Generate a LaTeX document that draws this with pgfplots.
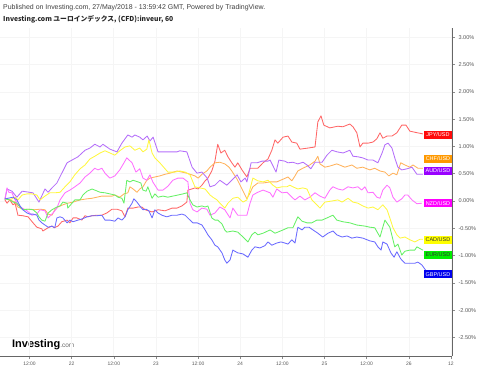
\documentclass[border=0pt]{standalone}
\usepackage{fontspec}
\setmainfont{Liberation Sans}
\newfontfamily\cjk{Noto Sans CJK JP}
\usepackage{pgfplots}
\pgfplotsset{compat=1.18}
\definecolor{lJPY}{HTML}{FF6666}\definecolor{fJPY}{HTML}{FF0A0A}
\definecolor{lCHF}{HTML}{FFB25C}\definecolor{fCHF}{HTML}{FF9900}
\definecolor{lAUD}{HTML}{B46EFA}\definecolor{fAUD}{HTML}{9900FF}
\definecolor{lNZD}{HTML}{FF70FF}\definecolor{fNZD}{HTML}{FF00FF}
\definecolor{lCAD}{HTML}{FFF740}\definecolor{fCAD}{HTML}{FFFF00}
\definecolor{lEUR}{HTML}{66F066}\definecolor{fEUR}{HTML}{00EE00}
\definecolor{lGBP}{HTML}{6A6AFF}\definecolor{fGBP}{HTML}{0000EE}
\begin{document}
\begin{tikzpicture}
\path[use as bounding box] (0,0) rectangle (480bp,369bp);
\node[anchor=west, inner sep=0pt, font=\fontsize{7}{8}\selectfont, text=black!75] at (3bp,361bp) {Published on Investing.com, 27/May/2018 - 13:59:42 GMT, Powered by TradingView.};
\node[anchor=west, inner sep=0pt, font=\cjk\bfseries\fontsize{6.8}{8}\selectfont, text=black!85] at (3bp,350bp) {Investing.com ユーロインデックス, (CFD):inveur, 60};
\node[anchor=west, inner sep=0pt] at (12bp,24bp) {\fontsize{11}{12}\selectfont\bfseries Investing\fontsize{6.5}{7}\selectfont\mdseries\textcolor{black!60}{.com}};
\begin{axis}[at={(0bp,13bp)}, anchor=south west, scale only axis,
  width=452bp, height=328bp,
  xmin=3.6, xmax=132.3, ymin=-2.84, ymax=3.17,
  axis x line*=bottom, axis y line*=right,
  axis line style={-, draw=black!60, line width=0.8bp},
  grid=major, major grid style={draw=black!4, line width=0.6bp},
  tick align=outside, major tick length=3bp,
  tick style={draw=black!45, line width=0.5bp},
  xtick={12,24,36,48,60,72,84,96,108,120,132},
  xticklabels={12:00,22,12:00,23,12:00,24,12:00,25,12:00,26,12},
  ytick={-2.5,-2,-1.5,-1,-0.5,0,0.5,1,1.5,2,2.5,3},
  /pgf/number format/assume math mode=true,
  yticklabel={\pgfmathprintnumber[fixed,fixed zerofill,precision=2]{\tick}\%},
  xticklabel style={font=\fontsize{5}{6}\selectfont, text=black!65},
  yticklabel style={font=\fontsize{5.6}{6}\selectfont, text=black!65},
  clip mode=individual,
  every axis plot/.append style={line width=0.85bp, line join=round}]
\addplot[lJPY] coordinates {(5.0,0.02)(5.6,-0.04)(6.4,0.02)(7.3,-0.07)(7.9,-0.04)(8.7,-0.26)(10.1,-0.27)(11.6,-0.29)(13.0,-0.40)(14.1,-0.48)(15.5,-0.51)(15.8,-0.55)(17.3,-0.49)(18.4,-0.46)(19.0,-0.49)(20.1,-0.46)(21.2,-0.38)(22.7,-0.35)(23.5,-0.40)(24.4,-0.31)(25.5,-0.31)(26.9,-0.35)(27.8,-0.27)(28.6,-0.29)(29.8,-0.27)(31.2,-0.26)(32.6,-0.26)(34.0,-0.22)(35.5,-0.15)(36.9,-0.15)(38.3,-0.18)(39.2,-0.29)(40.0,-0.13)(41.5,-0.13)(42.9,-0.11)(44.0,-0.11)(44.9,-0.16)(46.9,-0.20)(48.6,-0.16)(50.6,-0.18)(52.6,-0.13)(54.0,-0.13)(55.4,-0.09)(56.8,-0.02)(57.1,0.20)(58.2,0.22)(59.1,0.24)(60.0,0.22)(61.1,0.29)(62.0,0.37)(62.8,0.42)(63.9,0.55)(64.8,0.73)(65.6,1.04)(66.5,0.88)(67.6,0.93)(68.5,0.81)(69.6,0.70)(70.5,0.62)(71.3,0.70)(72.5,0.57)(73.9,0.44)(74.8,0.60)(77.0,0.60)(78.5,0.70)(79.9,0.77)(81.0,0.93)(81.9,1.12)(82.7,1.06)(84.2,1.17)(85.6,1.19)(86.7,1.08)(88.1,1.06)(89.0,0.95)(91.3,0.97)(93.3,0.99)(94.1,1.45)(95.0,1.56)(95.8,1.39)(97.5,1.34)(99.8,1.37)(101.2,1.36)(103.2,1.41)(104.1,1.36)(105.2,1.25)(106.1,0.99)(106.9,1.06)(108.4,1.06)(109.8,1.08)(110.9,1.14)(111.8,1.25)(112.6,1.15)(113.8,1.19)(115.2,1.19)(116.6,1.25)(118.0,1.39)(119.2,1.39)(120.3,1.28)(121.7,1.26)(124.0,1.23)};
\addplot[lCHF] coordinates {(5.0,0.04)(6.4,0.02)(7.9,-0.02)(8.7,-0.11)(10.1,-0.15)(12.1,-0.15)(13.5,-0.16)(15.0,-0.15)(16.4,-0.16)(17.3,-0.24)(18.4,-0.26)(19.2,-0.16)(20.1,-0.11)(21.5,-0.07)(22.9,-0.04)(24.4,-0.02)(26.4,0.02)(28.4,0.04)(29.8,0.05)(31.2,0.07)(32.6,0.09)(34.0,0.09)(35.5,0.09)(36.3,0.11)(37.7,0.07)(38.9,0.13)(40.0,0.15)(40.6,0.26)(41.5,0.22)(42.6,0.16)(43.4,0.22)(44.3,0.26)(45.4,0.38)(46.3,0.42)(47.7,0.44)(49.1,0.46)(50.6,0.49)(52.0,0.51)(54.0,0.55)(55.4,0.53)(56.8,0.51)(58.2,0.48)(59.1,0.46)(60.0,0.42)(61.1,0.49)(62.5,0.55)(63.4,0.62)(64.8,0.70)(66.2,0.71)(67.6,0.68)(68.8,0.62)(69.6,0.55)(71.1,0.40)(72.5,0.22)(73.9,0.04)(74.8,0.15)(75.6,0.26)(77.0,0.33)(78.5,0.33)(80.5,0.35)(82.4,0.35)(84.2,0.40)(85.6,0.44)(86.7,0.37)(87.6,0.46)(88.4,0.55)(89.8,0.60)(91.8,0.66)(93.3,0.73)(94.1,0.82)(94.7,0.68)(96.1,0.62)(97.5,0.64)(99.5,0.68)(101.8,0.62)(103.8,0.66)(105.2,0.60)(106.9,0.62)(108.9,0.57)(110.3,0.60)(111.8,0.55)(113.2,0.53)(114.3,0.46)(115.5,0.51)(116.6,0.48)(117.7,0.70)(118.9,0.66)(120.3,0.62)(121.2,0.66)(122.6,0.60)(124.0,0.60)};
\addplot[lAUD] coordinates {(5.0,0.02)(5.6,0.22)(7.0,0.18)(8.4,0.07)(9.9,0.18)(13.0,0.15)(14.7,-0.02)(16.4,0.22)(17.3,0.16)(18.4,0.24)(19.8,0.33)(21.2,0.51)(22.7,0.70)(24.1,0.75)(25.8,0.81)(27.8,0.93)(29.2,0.97)(30.6,1.04)(32.1,0.99)(32.9,1.04)(34.9,0.95)(36.9,0.90)(38.3,1.06)(40.0,1.21)(41.2,1.17)(42.0,1.21)(43.4,1.17)(44.3,1.12)(45.5,1.19)(46.3,1.10)(47.2,1.17)(48.6,0.90)(52.0,0.90)(54.0,0.90)(54.8,0.92)(56.8,0.90)(58.3,0.62)(59.7,0.51)(61.1,0.53)(62.6,0.42)(63.4,0.26)(64.8,0.29)(66.2,0.38)(68.2,0.29)(69.6,0.38)(71.1,0.48)(72.2,0.35)(73.4,0.42)(73.9,0.35)(75.1,0.70)(76.8,0.70)(78.2,0.73)(79.9,0.73)(80.5,0.75)(82.2,0.53)(83.0,0.75)(84.7,0.73)(85.6,0.70)(87.0,0.71)(88.4,0.68)(89.9,0.71)(91.0,0.66)(92.1,0.59)(93.3,0.71)(95.3,0.71)(96.7,0.84)(98.1,0.93)(99.6,0.90)(101.3,0.88)(103.2,0.93)(104.1,0.82)(105.5,0.81)(106.9,0.79)(108.4,0.75)(109.8,0.75)(111.2,0.70)(112.4,0.88)(113.2,1.03)(114.1,1.06)(115.2,0.97)(116.1,0.77)(116.9,0.62)(118.0,0.57)(119.5,0.59)(120.9,0.62)(122.3,0.49)(124.0,0.49)};
\addplot[lNZD] coordinates {(5.0,0.04)(5.6,0.24)(6.1,0.16)(7.0,0.15)(7.9,0.02)(8.7,-0.07)(9.9,-0.13)(11.3,-0.18)(12.7,-0.26)(14.1,-0.24)(15.0,-0.16)(16.4,-0.18)(17.3,-0.31)(18.1,-0.26)(18.7,-0.22)(19.8,-0.13)(20.7,0.02)(22.1,0.15)(23.5,0.20)(24.9,0.26)(26.4,0.33)(27.8,0.44)(29.2,0.51)(30.6,0.60)(31.5,0.57)(32.6,0.60)(33.5,0.51)(34.9,0.42)(36.3,0.46)(37.7,0.57)(38.9,0.70)(39.7,0.79)(41.2,0.70)(42.3,0.53)(43.4,0.59)(44.3,0.42)(45.4,0.38)(46.3,0.48)(47.1,0.35)(48.6,0.20)(50.0,0.20)(51.4,0.27)(52.8,0.38)(54.3,0.42)(55.7,0.42)(57.1,0.35)(57.7,-0.04)(58.5,-0.16)(59.7,-0.20)(61.1,-0.13)(62.5,-0.15)(63.4,-0.26)(64.8,-0.22)(66.2,-0.11)(67.6,-0.16)(69.1,-0.31)(69.9,-0.13)(71.3,-0.26)(73.9,-0.26)(74.8,-0.04)(75.6,0.11)(77.0,0.16)(78.5,0.20)(80.5,0.15)(81.3,0.07)(82.4,0.22)(83.9,0.15)(85.3,0.16)(86.7,0.07)(87.6,0.02)(89.0,0.09)(90.4,0.02)(91.8,0.07)(93.3,0.15)(94.7,0.09)(96.1,0.05)(97.5,0.20)(98.4,0.26)(99.8,0.22)(101.2,0.20)(102.7,0.26)(104.1,0.24)(105.5,0.26)(106.6,0.20)(107.5,0.26)(108.4,0.15)(109.8,0.16)(110.9,0.07)(111.8,0.05)(112.6,0.20)(113.8,0.29)(114.6,0.24)(115.5,0.07)(116.6,-0.02)(118.0,0.04)(118.9,0.11)(119.7,0.11)(120.9,0.02)(122.3,-0.05)(123.7,-0.04)};
\addplot[lCAD] coordinates {(5.0,0.04)(6.4,0.02)(7.9,0.07)(8.7,0.02)(9.9,0.11)(11.3,0.13)(12.7,0.13)(14.1,0.11)(15.0,0.02)(16.4,0.09)(17.8,0.15)(19.2,0.15)(20.7,0.16)(22.1,0.26)(23.5,0.35)(24.9,0.48)(26.4,0.59)(27.8,0.66)(29.2,0.77)(30.6,0.82)(32.1,0.88)(33.5,0.92)(34.9,0.88)(36.3,0.84)(37.7,0.92)(39.2,0.99)(40.6,1.01)(42.0,0.93)(43.4,0.97)(44.3,0.90)(45.4,0.95)(46.0,1.12)(46.9,0.88)(47.7,0.79)(49.1,0.70)(50.6,0.59)(51.4,0.53)(53.4,0.53)(54.8,0.55)(56.3,0.53)(57.7,0.48)(59.1,0.26)(60.5,0.24)(62.0,0.22)(63.4,0.11)(64.2,0.07)(65.4,0.02)(66.2,-0.04)(67.6,-0.13)(68.5,-0.04)(69.9,0.05)(71.3,0.07)(72.8,-0.02)(73.9,0.02)(74.8,0.22)(75.6,0.42)(77.0,0.37)(78.5,0.35)(79.9,0.38)(81.3,0.29)(82.4,0.24)(83.9,0.26)(85.3,0.26)(86.1,0.29)(87.0,0.26)(88.4,0.22)(89.8,0.24)(91.0,0.22)(92.4,0.02)(93.8,-0.07)(94.7,-0.13)(96.1,-0.02)(98.1,0.00)(99.8,0.02)(101.0,-0.02)(102.7,0.05)(104.1,-0.02)(105.5,-0.04)(106.9,-0.09)(108.4,-0.13)(109.8,-0.11)(111.2,-0.16)(112.6,-0.07)(113.8,-0.16)(114.6,-0.31)(115.5,-0.49)(116.6,-0.62)(117.5,-0.68)(118.9,-0.66)(120.3,-0.71)(121.7,-0.75)(123.2,-0.70)(124.0,-0.70)};
\addplot[lEUR] coordinates {(5.0,0.04)(6.4,0.02)(7.3,-0.02)(8.4,-0.04)(9.3,-0.11)(10.1,-0.16)(11.6,-0.15)(13.0,-0.16)(14.1,-0.22)(14.7,-0.29)(15.5,-0.35)(16.4,-0.37)(17.3,-0.22)(18.4,-0.16)(19.8,-0.11)(20.7,-0.09)(21.5,-0.02)(22.7,-0.04)(22.9,-0.13)(24.1,-0.04)(24.9,0.02)(26.4,0.02)(27.2,0.11)(28.4,0.18)(29.8,0.22)(30.6,0.20)(32.1,0.16)(33.5,0.15)(34.9,0.13)(36.3,0.11)(37.2,0.07)(38.3,0.05)(38.9,-0.04)(39.7,0.38)(40.6,0.35)(41.5,0.38)(42.9,0.35)(43.7,0.33)(44.3,0.20)(45.2,0.18)(45.7,0.26)(46.9,0.05)(47.7,0.13)(48.6,0.07)(50.0,0.09)(51.4,0.07)(52.8,0.09)(54.3,0.11)(55.7,0.13)(56.8,0.15)(57.7,0.02)(58.5,-0.07)(59.7,-0.11)(61.1,-0.09)(62.0,-0.11)(62.8,-0.09)(63.9,-0.31)(64.8,-0.35)(65.6,-0.35)(66.8,-0.42)(67.6,-0.53)(68.2,-0.57)(69.9,-0.55)(71.3,-0.57)(72.8,-0.66)(74.2,-0.75)(75.3,-0.62)(76.2,-0.57)(77.0,-0.62)(78.5,-0.59)(80.5,-0.53)(81.9,-0.59)(82.7,-0.57)(84.2,-0.53)(85.6,-0.49)(87.0,-0.49)(88.4,-0.29)(89.6,-0.37)(91.0,-0.40)(92.4,-0.40)(93.8,-0.35)(95.3,-0.35)(96.7,-0.31)(98.4,-0.26)(99.5,-0.35)(101.2,-0.38)(103.2,-0.40)(105.2,-0.44)(107.5,-0.46)(108.9,-0.48)(110.3,-0.49)(111.8,-0.66)(112.6,-0.48)(113.2,-0.35)(114.6,-0.48)(116.0,-0.84)(116.9,-0.79)(118.0,-0.99)(118.9,-0.92)(120.3,-0.90)(121.7,-0.90)(122.3,-0.84)(124.0,-0.90)};
\addplot[lGBP] coordinates {(5.0,0.04)(5.9,0.05)(7.3,0.07)(8.4,0.02)(9.3,-0.09)(10.1,-0.16)(11.3,-0.22)(12.1,-0.24)(13.0,-0.24)(14.1,-0.26)(14.7,-0.35)(15.5,-0.40)(16.4,-0.44)(17.3,-0.48)(18.4,-0.46)(19.2,-0.49)(19.8,-0.31)(20.7,-0.29)(21.5,-0.31)(22.7,-0.40)(23.5,-0.35)(24.4,-0.38)(25.8,-0.35)(26.9,-0.33)(28.4,-0.29)(29.8,-0.27)(31.2,-0.27)(32.6,-0.26)(33.5,-0.35)(34.9,-0.35)(36.3,-0.37)(37.2,-0.31)(38.3,-0.35)(39.2,-0.29)(40.0,-0.16)(41.2,-0.04)(41.7,0.04)(42.6,-0.02)(43.4,-0.09)(44.3,-0.16)(45.2,-0.15)(46.0,-0.18)(46.9,-0.31)(47.7,-0.16)(48.6,-0.22)(49.7,-0.26)(51.1,-0.29)(52.6,-0.26)(54.0,-0.26)(55.4,-0.24)(56.3,-0.26)(57.7,-0.35)(58.5,-0.40)(59.7,-0.40)(61.1,-0.44)(62.0,-0.53)(62.8,-0.62)(63.9,-0.71)(64.8,-0.81)(65.6,-0.84)(66.8,-0.95)(67.6,-1.08)(68.2,-1.14)(69.1,-1.08)(69.9,-0.90)(71.3,-0.95)(72.8,-0.97)(74.2,-1.03)(75.3,-0.90)(76.2,-0.84)(77.6,-0.86)(79.0,-0.82)(79.9,-0.75)(81.0,-0.81)(82.4,-0.77)(83.6,-0.75)(84.7,-0.77)(85.6,-0.79)(86.7,-0.71)(87.6,-0.77)(88.4,-0.48)(89.6,-0.53)(90.4,-0.48)(91.6,-0.48)(92.7,-0.53)(94.1,-0.59)(95.5,-0.66)(97.0,-0.59)(98.4,-0.55)(99.5,-0.62)(101.0,-0.66)(102.4,-0.64)(103.8,-0.68)(105.2,-0.66)(106.9,-0.68)(108.9,-0.73)(110.3,-0.75)(111.2,-0.84)(112.1,-0.90)(112.6,-0.75)(113.8,-0.79)(114.9,-0.95)(115.8,-1.03)(116.6,-0.93)(117.7,-1.06)(118.9,-1.14)(120.3,-1.14)(121.7,-1.14)(122.6,-1.12)(123.7,-1.17)(124.6,-1.25)(125.2,-1.30)};
\tikzset{lbl/.style={inner sep=0.8bp, minimum width=28bp, minimum height=8bp, font=\fontsize{5.5}{6}\selectfont}}
\node[lbl, fill=fJPY, text=white] at (axis cs:128.3,1.21) {JPY/USD};
\node[lbl, fill=fCHF, text=white] at (axis cs:128.3,0.77) {CHF/USD};
\node[lbl, fill=fAUD, text=white] at (axis cs:128.3,0.55) {AUD/USD};
\node[lbl, fill=fNZD, text=white] at (axis cs:128.3,-0.04) {NZD/USD};
\node[lbl, fill=fCAD, text=black!80] at (axis cs:128.3,-0.71) {CAD/USD};
\node[lbl, fill=fEUR, text=black!80] at (axis cs:128.3,-0.99) {EUR/USD};
\node[lbl, fill=fGBP, text=white] at (axis cs:128.3,-1.34) {GBP/USD};
\end{axis}
\end{tikzpicture}
\end{document}
